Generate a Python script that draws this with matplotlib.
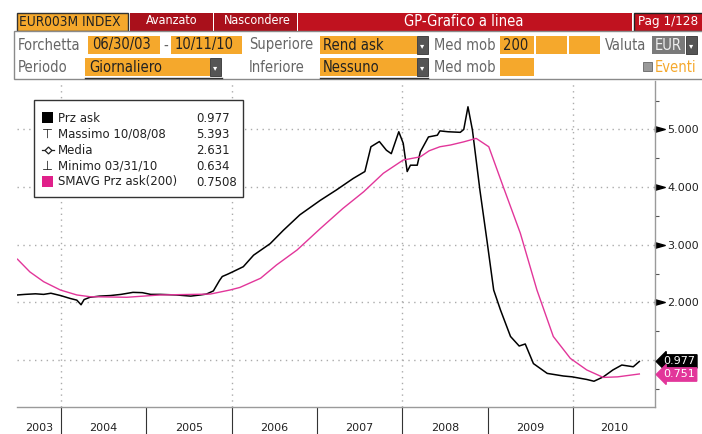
import matplotlib
matplotlib.use("Agg")
import matplotlib.pyplot as plt
import matplotlib.transforms as mtransforms
from matplotlib.patches import Rectangle
import pandas as pd
import numpy as np

# EUR003M Index - Prz ask (black) and SMAVG 200 (pink)
ask_dates = ["2003-06-30", "2003-08-01", "2003-09-15", "2003-10-20", "2003-11-20", "2003-12-31",
             "2004-02-10", "2004-03-10", "2004-03-28", "2004-04-10", "2004-05-05", "2004-06-15",
             "2004-08-01", "2004-09-15", "2004-11-05", "2004-12-15", "2005-01-20", "2005-03-01",
             "2005-05-10", "2005-07-10", "2005-08-20", "2005-09-15", "2005-10-15", "2005-11-10",
             "2005-11-22", "2005-12-15", "2006-01-05", "2006-02-20", "2006-04-05", "2006-06-15",
             "2006-08-10", "2006-10-20", "2007-01-15", "2007-03-25", "2007-06-05", "2007-07-25",
             "2007-08-20", "2007-09-25", "2007-10-25", "2007-11-15", "2007-12-17", "2008-01-05",
             "2008-01-22", "2008-02-05", "2008-03-05", "2008-03-18", "2008-04-22", "2008-05-30",
             "2008-06-10", "2008-07-15", "2008-09-05", "2008-09-20", "2008-10-08", "2008-10-27",
             "2008-11-28", "2008-12-28", "2009-01-26", "2009-02-24", "2009-04-08", "2009-05-15",
             "2009-06-10", "2009-07-15", "2009-09-12", "2009-11-20", "2009-12-28", "2010-02-28",
             "2010-03-31", "2010-05-10", "2010-06-20", "2010-07-28", "2010-09-15", "2010-10-11"]
ask_vals = [2.13, 2.14, 2.15, 2.14, 2.16, 2.12,
            2.07, 2.04, 1.96, 2.05, 2.09, 2.11,
            2.12, 2.14, 2.175, 2.17, 2.14, 2.14,
            2.13, 2.11, 2.13, 2.145, 2.20, 2.38,
            2.45, 2.49, 2.53, 2.62, 2.82, 3.02,
            3.25, 3.52, 3.77, 3.95, 4.15, 4.27,
            4.70, 4.79, 4.64, 4.58, 4.96, 4.76,
            4.27, 4.38, 4.38, 4.61, 4.87, 4.90,
            4.975, 4.96, 4.95, 5.00, 5.393, 4.99,
            3.95, 3.08, 2.215, 1.87, 1.41, 1.245,
            1.28, 0.94, 0.77, 0.725, 0.71, 0.665,
            0.634, 0.71, 0.83, 0.915, 0.885, 0.977]

sma_dates = ["2003-06-30", "2003-08-22", "2003-10-20", "2003-12-31", "2004-03-10", "2004-05-05",
             "2004-10-10", "2005-03-01", "2005-10-01", "2005-12-24", "2006-02-05", "2006-05-05",
             "2006-07-12", "2006-10-08", "2007-01-15", "2007-04-22", "2007-07-20", "2007-10-12",
             "2008-01-05", "2008-03-18", "2008-04-25", "2008-06-10", "2008-07-25", "2008-09-20",
             "2008-11-12", "2009-01-05", "2009-03-08", "2009-05-20", "2009-07-30", "2009-10-08",
             "2009-12-20", "2010-02-28", "2010-05-10", "2010-07-10", "2010-10-11"]
sma_vals = [2.75, 2.53, 2.36, 2.215, 2.13, 2.10,
            2.09, 2.13, 2.145, 2.215, 2.26, 2.42,
            2.65, 2.91, 3.28, 3.63, 3.92, 4.24,
            4.47, 4.525, 4.63, 4.70, 4.73, 4.785,
            4.845, 4.70, 4.005, 3.20, 2.215, 1.41,
            1.03, 0.83, 0.70, 0.71, 0.76]

years = list(range(2003, 2011))
y_ticks = [2, 3, 4, 5]
legend_rows = [("Prz ask", "0.977"), ("Massimo 10/08/08", "5.393"), ("Media", "2.631"),
               ("Minimo 03/31/10", "0.634"), ("SMAVG Prz ask(200)", "0.7508")]
last_ask = 0.977
last_sma = 0.751

PINK = "#e2369a"
ORANGE = "#f5a82c"
RED = "#c0121f"

W, H = 702, 434
fig = plt.figure(figsize=(W / 100, H / 100), dpi=100)


def fx(px):
    return px / W


def fy(py):
    return 1 - py / H


ax = fig.add_axes([fx(17), fy(406.5), fx(655) - fx(17), fy(81) - fy(406.5)])
ax.set_zorder(1)
ax.patch.set_alpha(0)

t_ask = pd.to_datetime(ask_dates)
t_sma = pd.to_datetime(sma_dates)
ax.plot(t_ask, ask_vals, color="black", lw=1.1, zorder=3)
ax.plot(t_sma, sma_vals, color=PINK, lw=1.0, zorder=3)

x0 = pd.Timestamp("2003-06-28")
x1 = pd.Timestamp("2010-12-17")
ax.set_xlim(x0, x1)
ax.set_ylim(0.196, 5.84)

# dotted grid
grid_kw = dict(color="#ababab", lw=1.0, ls=(0, (1, 3.2)), zorder=1)
for v in range(1, 6):
    ax.axhline(v, **grid_kw)
for y in (2004, 2006, 2008, 2010):
    ax.axvline(pd.Timestamp(f"{y}-01-01"), **grid_kw)

# x axis: year separators + centred labels
bounds = pd.to_datetime([f"{y}-01-01" for y in years[1:]])
ax.set_xticks(bounds, minor=True)
ax.tick_params(axis="x", which="minor", length=19.5, width=0.8, color="#333333", direction="out")
edges = [x0] + list(bounds) + [x1]
mids = [a + (b - a) / 2 for a, b in zip(edges[:-1], edges[1:])]
ax.set_xticks(mids)
ax.set_xticklabels([str(y) for y in years], fontsize=8, color="#222222")
ax.tick_params(axis="x", which="major", length=0, pad=12)

# right y axis
ax.yaxis.tick_right()
ax.set_yticks(y_ticks)
ax.set_yticklabels([f"{v:.3f}" for v in y_ticks], fontsize=8, color="#222222")
ax.tick_params(axis="y", which="major", length=0, pad=9)
ax.set_yticks(np.arange(0.5, 6, 1), minor=True)
ax.tick_params(axis="y", which="minor", length=3, width=0.8, color="#555555", direction="out")
tri = [(0, -0.28), (1, 0), (0, 0.28), (0, -0.28)]
trans = mtransforms.blended_transform_factory(ax.transAxes, ax.transData)
ax.plot([1] * len(y_ticks), y_ticks, transform=trans, marker=tri, ms=14, ls="none",
        color="black", clip_on=False)

for s in ("top", "left"):
    ax.spines[s].set_visible(False)
for s in ("bottom", "right"):
    ax.spines[s].set_color("#9a9a9a")
    ax.spines[s].set_linewidth(1.0)

# last value tags
for val, col in ((last_ask, "black"), (last_sma, PINK)):
    ax.annotate(f"{val:.3f}", xy=(1, val), xycoords=("axes fraction", "data"),
                xytext=(6, 0), textcoords="offset points", va="center", ha="left",
                fontsize=8, color="white", annotation_clip=False,
                bbox=dict(boxstyle="larrow,pad=0.15", fc=col, ec=col))

# ---- header / panel, drawn in pixel space
ov = fig.add_axes([0, 0, 1, 1])
ov.set_zorder(2)
ov.patch.set_alpha(0)
ov.set_xlim(0, W)
ov.set_ylim(H, 0)
ov.axis("off")

hfont = dict(family="DejaVu Sans", fontstretch="condensed")


def box(x, y, w, h, fc, ec="none", lw=0.8):
    ov.add_patch(Rectangle((x, y), w, h, fc=fc, ec=ec, lw=lw))


def txt(x, y, s, size=10.5, color="#666666", ha="left", **kw):
    ov.text(x, y, s, fontsize=size, color=color, ha=ha, va="center", **hfont, **kw)


def drop(x, y, h=18):
    box(x, y, 11, h, "#555555", ec="#333333", lw=0.6)
    ov.text(x + 5.5, y + h / 2 + 1, "\u25be", fontsize=6, color="white", ha="center", va="center")


box(17, 13, 111, 18, ORANGE, ec="#333333", lw=1)
txt(19, 22, "EUR003M INDEX", size=9.8, color="#222222")
box(130, 13, 83, 18, "#a9101b")
box(214, 13, 83, 18, "#a9101b")
box(298, 13, 334, 18, RED)
box(634, 13, 70, 18, RED, ec="#222222", lw=1)
txt(172, 21, "Avanzato", size=9, color="white", ha="center")
txt(257, 21, "Nascondere", size=9, color="white", ha="center")
txt(464, 22, "GP-Grafico a linea", size=10.5, color="white", ha="center")
txt(638, 22, "Pag 1/128", size=9.6, color="white")

box(14, 31, 700, 48, "white", ec="#8a8a8a", lw=1)

# row 1
r1, r2 = 36, 58
txt(18, r1 + 9, "Forchetta")
box(88, r1, 72, 18, ORANGE)
txt(92, r1 + 9, "06/30/03", color="#222222")
txt(163, r1 + 9, "-")
box(171, r1, 71, 18, ORANGE)
txt(175, r1 + 9, "10/11/10", color="#222222")
txt(249, r1 + 9, "Superiore")
box(320, r1, 97, 18, ORANGE)
txt(323, r1 + 9, "Rend ask", color="#222222")
drop(417, r1)
txt(434, r1 + 9, "Med mob")
box(500, r1, 34, 18, ORANGE)
txt(503, r1 + 9, "200", color="#222222")
box(536, r1, 31, 18, ORANGE)
box(569, r1, 31, 18, ORANGE)
txt(605, r1 + 9, "Valuta")
box(652, r1, 33, 18, "#7a7a7a")
txt(655, r1 + 9, "EUR", color="#eeeeee")
drop(686, r1)

# row 2
txt(18, r2 + 9, "Periodo")
box(85, r2, 125, 18, ORANGE)
txt(89, r2 + 9, "Giornaliero", color="#222222")
drop(210, r2)
ov.plot([85, 222], [r2 + 20, r2 + 20], color="#333333", lw=1)
txt(249, r2 + 9, "Inferiore")
box(320, r2, 97, 18, ORANGE)
txt(323, r2 + 9, "Nessuno", color="#222222")
drop(417, r2)
ov.plot([320, 428], [r2 + 20, r2 + 20], color="#333333", lw=1)
txt(434, r2 + 9, "Med mob")
box(500, r2, 34, 18, ORANGE)
box(643, r2 + 4, 9, 9, "#999999", ec="#666666", lw=0.6)
txt(655, r2 + 9, "Eventi", color=ORANGE)

# legend box
box(34, 100, 209, 97, "white", ec="#333333", lw=1)
row_y = [118, 134, 150, 166, 182]
for (name, val), yy in zip(legend_rows, row_y):
    ov.text(58, yy, name, fontsize=8.5, color="#222222", va="center", family="DejaVu Sans")
    ov.text(196, yy, val, fontsize=8.5, color="#222222", va="center", family="DejaVu Sans")
box(42, row_y[0] - 6, 11, 11, "black")
ov.text(47.5, row_y[1], "\u22a4", fontsize=9, ha="center", va="center", color="#222222")
ov.plot([42, 54], [row_y[2], row_y[2]], color="#222222", lw=0.9)
ov.plot([48], [row_y[2]], marker="D", ms=3.5, color="#222222", mfc="white", mew=0.9)
ov.text(47.5, row_y[3], "\u22a5", fontsize=9, ha="center", va="center", color="#222222")
box(42, row_y[4] - 6, 11, 11, "#e0208a")

fig.savefig("out.png", dpi=100, facecolor="white")
